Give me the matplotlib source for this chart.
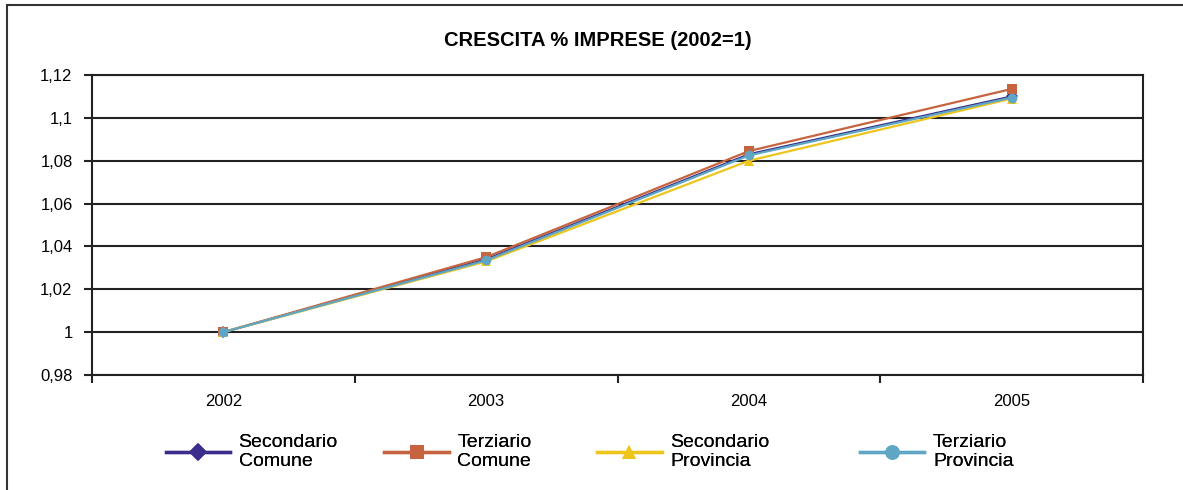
import numpy as np
import matplotlib
matplotlib.use("Agg")
import matplotlib.pyplot as plt
from matplotlib.patches import Rectangle
from matplotlib.lines import Line2D

plt.rcParams['font.family'] = ['Liberation Sans', 'DejaVu Sans']

# dati
anni = ['2002', '2003', '2004', '2005']
secondario_comune = [1.0, 1.034, 1.083, 1.110]
terziario_comune = [1.0, 1.035, 1.0845, 1.1135]
secondario_provincia = [1.0, 1.033, 1.080, 1.109]
terziario_provincia = [1.0, 1.0335, 1.0825, 1.1095]

serie = [
    ("Secondario\nComune", secondario_comune, '#3b2d8c', 'D', 6),
    ("Terziario\nComune", terziario_comune, '#c6643f', 's', 7),
    ("Secondario\nProvincia", secondario_provincia, '#eec51c', '^', 7),
    ("Terziario\nProvincia", terziario_provincia, '#5ea6c4', 'o', 7),
]
# posizione x (in frazione di figura) di ogni voce della legenda
leg_x = [0.140, 0.325, 0.505, 0.727]

fig = plt.figure(figsize=(11.83, 4.90), dpi=100)
ax = fig.add_axes([0.0778, 0.2347, 0.8884, 0.6122])

x = np.arange(len(anni))
handles = []
for (nome, valori, col, mk, ms) in serie:
    ln, = ax.plot(x, valori, color=col, marker=mk, markersize=ms,
                  linewidth=1.6, markeredgewidth=0)
    handles.append(Line2D([], [], color=col, marker=mk, markersize=ms * 1.5,
                          linewidth=2.4, markeredgewidth=0))

# assi
ax.set_xlim(-0.5, len(anni) - 0.5)
ax.set_ylim(0.98, 1.12)
yt = np.arange(0.98, 1.1201, 0.02)
ax.set_yticks(yt)
ax.set_yticklabels(['0,98', '1', '1,02', '1,04', '1,06', '1,08', '1,1', '1,12'])
ax.yaxis.grid(True, color='#222222', linewidth=1.5)
ax.set_axisbelow(True)

ax.set_xticks(np.arange(-0.5, len(anni), 1.0))
ax.set_xticklabels([])
ax.set_xticks(x, minor=True)
ax.set_xticklabels(anni, minor=True)
ax.tick_params(axis='x', which='minor', length=0, pad=14, labelsize=12)
ax.tick_params(axis='x', which='major', length=6, width=1.5, color='#222222')
ax.tick_params(axis='y', length=6, width=1.5, color='#222222', labelsize=12, pad=8)

for s in ax.spines.values():
    s.set_color('#222222')
    s.set_linewidth(1.5)

fig.text(0.505, 0.918, "CRESCITA % IMPRESE (2002=1)", ha='center', va='center',
         fontsize=14.5, fontweight='bold')

# legenda in basso, una voce alla volta
for h, (nome, *_), lx in zip(handles, serie, leg_x):
    lg = fig.legend([h], [nome], loc='upper left', bbox_to_anchor=(lx, 0.114),
                    frameon=False, fontsize=14, handlelength=3.3,
                    handletextpad=0.45, borderaxespad=0, borderpad=0,
                    labelspacing=0)
    for t in lg.get_texts():
        t.set_linespacing(1.15)
    fig.add_artist(lg)

# cornice esterna
fig.add_artist(Rectangle((0.006, -0.1), 1.2, 1.0898, transform=fig.transFigure,
                         fill=False, edgecolor='#333333', linewidth=1.5))

fig.savefig("out.png", dpi=100)
